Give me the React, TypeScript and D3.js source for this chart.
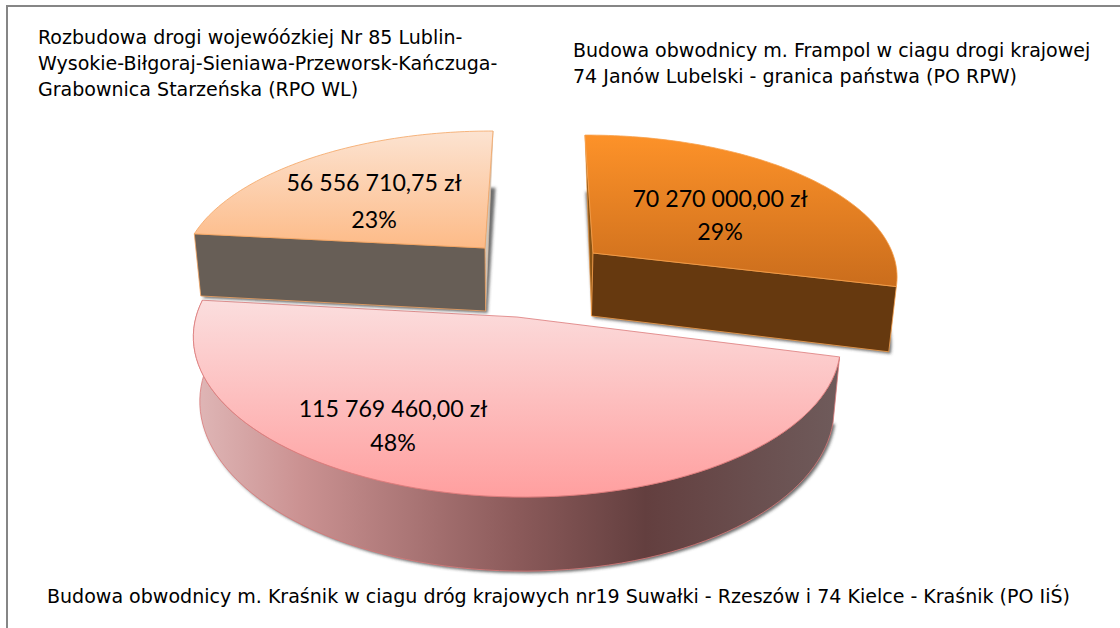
import React from "react";
import * as d3 from "d3";

const categories = [
  ["Budowa obwodnicy m. Frampol w ciagu drogi krajowej", "74 Janów Lubelski - granica państwa (PO RPW)"],
  ["Budowa obwodnicy m. Kraśnik w ciagu dróg krajowych nr19 Suwałki - Rzeszów i 74 Kielce - Kraśnik (PO IiŚ)"],
  ["Rozbudowa drogi wojewóózkiej Nr 85 Lublin-", "Wysokie-Biłgoraj-Sieniawa-Przeworsk-Kańczuga-", "Grabownica Starzeńska (RPO WL)"],
];
const values = [70270000, 115769460, 56556710.75];

const W = 1120, H = 628;
const P = 0.15, DEPTH = 63, VX = 517, BOTTOM_SCALE = 0.98;
const START = (-1 * Math.PI) / 180;

const geo = [
  { cx: 593, cy: 253, rx: 300, ry: 135.6, k: 1.3, kx: 4 },
  { cx: 517, cy: 317, rx: 320, ry: 153, k: 3.5, kx: 0 },
  { cx: 485, cy: 248, rx: 297, ry: 134.5, k: 2.5, kx: -14.4 },
];
const labelPos = [
  { x: 720, y: 198, y2: 231 },
  { x: 393, y: 408, y2: 442 },
  { x: 374, y: 182, y2: 219 },
];
const labelPosCat = [
  { x: 573, y: 57 },
  { x: 47, y: 603 },
  { x: 38, y: 44 },
];

const pl = d3.formatLocale({ decimal: ",", thousands: " ", grouping: [3], currency: ["", " zł"] });
const fmt = pl.format(",.2f");

type G = (typeof geo)[number];
function proj(g: G, th: number, r: number, bottom: boolean): [number, number] {
  const u = Math.sin(th) * r, v = -Math.cos(th) * r;
  const w = 1 / (1 - P * v);
  let x = g.cx + (g.rx * u + g.kx * v) * w;
  let y = g.cy + (g.ry * v + g.k * u) * w;
  if (bottom) {
    x = VX + (x - VX) * BOTTOM_SCALE;
    y += DEPTH * w;
  }
  return [x, y];
}
const line = d3.line<[number, number]>().x((d) => d[0]).y((d) => d[1]);

function arcPts(g: G, a0: number, a1: number, bottom: boolean) {
  const n = 80;
  return d3.range(n + 1).map((i) => proj(g, a0 + ((a1 - a0) * i) / n, 1, bottom));
}

const pie = d3.pie<number>().sort(null).startAngle(START).endAngle(START + 2 * Math.PI);
const arcs = pie(values);
const total = d3.sum(values);

const styles = [
  { top: ["#fd9229", "#c96c1c"], stroke: "#f7a04a", wall: "#66390f" },
  { top: ["#fbdede", "#ff9f9f"], stroke: "#dc7a7a", wall: "url(#redWall)" },
  { top: ["#fce3d1", "#fdba86"], stroke: "#f4a562", wall: "#675e56" },
];

function Slice({ i }: { i: number }) {
  const g = geo[i];
  const a = arcs[i];
  const s = styles[i];
  const a0 = a.startAngle, a1 = a.endAngle;
  const topArc = arcPts(g, a0, a1, false);
  const botArc = arcPts(g, a0, a1, true);
  const apex = proj(g, 0, 0, false);
  const apexB = proj(g, 0, 0, true);
  const topFace = line([apex, ...topArc])! + "Z";
  const botFace = line([apexB, ...botArc])! + "Z";
  const wallOuter = line([...topArc, ...botArc.slice().reverse()])! + "Z";
  return (
    <g>
      <path d={botFace} fill="#3c3c3c" fillOpacity={0.75} filter="url(#blur)" transform="translate(2,2)" />
      {i === 1 && <path d={wallOuter} fill={s.wall} stroke={s.stroke} strokeWidth={0.8} />}
      {i === 0 && (
        <>
          <path d={line([topArc[0], apex, apexB])! + "Z"} fill="#8a5414" stroke={s.stroke} strokeWidth={0.6} />
          <path d={line([topArc[80], apex, apexB, botArc[80]])! + "Z"} fill={s.wall} stroke={s.stroke} strokeWidth={0.8} />
        </>
      )}
      {i === 2 && (
        <>
          <path d={line([topArc[80], apex, apexB])! + "Z"} fill="#cfc4b8" stroke="#d8c0a8" strokeWidth={0.6} />
          <path d={line([topArc[0], apex, apexB, botArc[0]])! + "Z"} fill={s.wall} stroke={s.stroke} strokeWidth={0.8} />
        </>
      )}
      <path d={topFace} fill={`url(#top${i})`} stroke={s.stroke} strokeWidth={0.8} />
    </g>
  );
}

export default function App() {
  return (
    <svg width={W} height={H} viewBox={`0 0 ${W} ${H}`} style={{ position: "absolute", left: 0, top: 0, display: "block", background: "#fff" }}>
      <defs>
        <filter id="blur" x="-10%" y="-10%" width="120%" height="120%">
          <feGaussianBlur stdDeviation={1.6} />
        </filter>
        <linearGradient id="top0" gradientUnits="userSpaceOnUse" x1={0} x2={0} y1={135} y2={290}>
          <stop offset="0" stopColor={styles[0].top[0]} />
          <stop offset="1" stopColor={styles[0].top[1]} />
        </linearGradient>
        <linearGradient id="top1" gradientUnits="userSpaceOnUse" x1={0} x2={0} y1={300} y2={497}>
          <stop offset="0" stopColor={styles[1].top[0]} />
          <stop offset="1" stopColor={styles[1].top[1]} />
        </linearGradient>
        <linearGradient id="top2" gradientUnits="userSpaceOnUse" x1={0} x2={0} y1={131} y2={250}>
          <stop offset="0" stopColor={styles[2].top[0]} />
          <stop offset="1" stopColor={styles[2].top[1]} />
        </linearGradient>
        <linearGradient id="redWall" gradientUnits="userSpaceOnUse" x1={197} x2={838} y1={0} y2={0}>
          <stop offset="0" stopColor="#dfb6b6" />
          <stop offset="0.16" stopColor="#cb9292" />
          <stop offset="0.5" stopColor="#8b5a5a" />
          <stop offset="0.7" stopColor="#633f3f" />
          <stop offset="1" stopColor="#6f5b5b" />
        </linearGradient>
      </defs>
      <path d={`M${W},6H7V${H}`} fill="none" stroke="#868686" strokeWidth={2} />
      <Slice i={1} />
      <Slice i={0} />
      <Slice i={2} />
      {values.map((v, i) => (
        <g key={i} fontFamily="Lato, 'Noto Sans', sans-serif" fontSize={23.2} fill="#000" textAnchor="middle">
          <text x={labelPos[i].x} y={labelPos[i].y} dominantBaseline="central">{fmt(v)} zł</text>
          <text x={labelPos[i].x} y={labelPos[i].y2} dominantBaseline="central">{Math.round((v / total) * 100)}%</text>
        </g>
      ))}
      {categories.map((lines, i) => (
        <g key={i} fontFamily="'DejaVu Sans', sans-serif" fontSize={19.05} fill="#000">
          {lines.map((t, j) => (
            <text key={j} x={labelPosCat[i].x} y={labelPosCat[i].y + j * 26}>{t}</text>
          ))}
        </g>
      ))}
    </svg>
  );
}
